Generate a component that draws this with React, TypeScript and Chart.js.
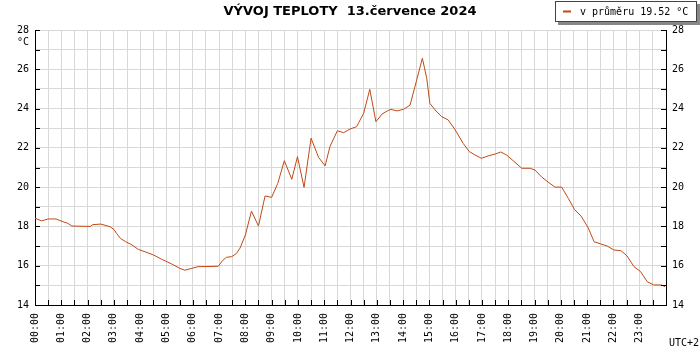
import React, { useEffect, useRef } from "react";
import { Chart, registerables } from "chart.js";

Chart.register(...registerables);

const titleText = "VÝVOJ TEPLOTY  13.července 2024";
const legendText = "v průměru 19.52 °C";
const unitText = "°C";
const tzText = "UTC+2";

const hourLabels = [
  "00:00", "01:00", "02:00", "03:00", "04:00", "05:00", "06:00", "07:00",
  "08:00", "09:00", "10:00", "11:00", "12:00", "13:00", "14:00", "15:00",
  "16:00", "17:00", "18:00", "19:00", "20:00", "21:00", "22:00", "23:00",
];

// minutes after midnight
const minutes = [
  0, 15, 30, 48, 57, 66, 75, 84, 126, 132, 150, 171, 180, 186, 195, 207, 219, 236,
  251, 270, 289, 312, 330, 342, 358, 372, 418, 428, 437, 449, 460, 468, 480, 494,
  510, 525, 540, 554, 569, 586, 599, 614, 630, 647, 662, 673, 690, 704, 719, 734,
  750, 764, 778, 792, 804, 812, 826, 841, 856, 871, 884, 894, 901, 913, 928, 943,
  959, 977, 991, 1004, 1019, 1034, 1051, 1063, 1076, 1091, 1111, 1130, 1141, 1157,
  1175, 1187, 1202, 1217, 1231, 1246, 1262, 1276, 1291, 1306, 1321, 1337, 1351,
  1367, 1382, 1397, 1412, 1430, 1438,
];

const temps = [
  18.42, 18.28, 18.38, 18.38, 18.3, 18.22, 18.16, 18.02, 18.0, 18.09, 18.12, 17.99,
  17.85, 17.65, 17.39, 17.22, 17.09, 16.83, 16.71, 16.55, 16.33, 16.09, 15.87, 15.77,
  15.87, 15.95, 15.97, 16.26, 16.43, 16.46, 16.63, 16.9, 17.56, 18.78, 18.02, 19.55,
  19.48, 20.19, 21.35, 20.4, 21.55, 19.99, 22.49, 21.52, 21.08, 22.06, 22.87, 22.77,
  22.96, 23.08, 23.76, 24.98, 23.33, 23.72, 23.88, 23.96, 23.88, 23.96, 24.18, 25.45,
  26.56, 25.54, 24.27, 23.93, 23.59, 23.42, 22.91, 22.23, 21.81, 21.64, 21.47, 21.59,
  21.69, 21.79, 21.64, 21.35, 20.96, 20.96, 20.87, 20.5, 20.19, 20.0, 20.0, 19.43,
  18.87, 18.53, 17.95, 17.22, 17.11, 17.0, 16.8, 16.77, 16.5, 15.95, 15.7, 15.19,
  15.02, 15.02, 14.93,
];

const LINE_COLOR = "#c04a14";
const MONO = "'DejaVu Sans Mono', monospace";

const decorPlugin = {
  id: "decor",
  afterDraw(chart: any) {
    const ctx = chart.ctx;
    const area = chart.chartArea;
    const x = chart.scales.x;
    const y = chart.scales.y;
    ctx.save();
    // inward tick marks
    ctx.strokeStyle = "#000";
    ctx.lineWidth = 1;
    ctx.beginPath();
    y.ticks.forEach((t: any) => {
      const py = Math.round(y.getPixelForValue(t.value)) + 0.5;
      ctx.moveTo(area.left, py);
      ctx.lineTo(area.left + 5, py);
      ctx.moveTo(area.right, py);
      ctx.lineTo(area.right - 5, py);
    });
    x.ticks.forEach((t: any) => {
      const px = Math.round(x.getPixelForValue(t.value)) + 0.5;
      ctx.moveTo(px, area.bottom);
      ctx.lineTo(px, area.bottom - 5);
    });
    ctx.stroke();

    // title
    ctx.fillStyle = "#000";
    ctx.font = "bold 13px 'DejaVu Sans', sans-serif";
    ctx.textAlign = "center";
    ctx.textBaseline = "middle";
    ctx.fillText(titleText, 350, 12);

    // unit & timezone
    ctx.font = "10px " + MONO;
    ctx.textAlign = "right";
    ctx.fillText(unitText, 29, 42);
    ctx.textAlign = "left";
    ctx.fillText(tzText, 669, 343);

    // legend box
    ctx.fillStyle = "#888";
    ctx.fillRect(558, 4, 142, 21);
    ctx.fillStyle = "#fff";
    ctx.fillRect(555, 1, 142, 21);
    ctx.strokeStyle = "#444";
    ctx.strokeRect(555.5, 1.5, 141, 20);
    ctx.strokeStyle = LINE_COLOR;
    ctx.lineWidth = 2;
    ctx.beginPath();
    ctx.moveTo(563, 11.5);
    ctx.lineTo(571, 11.5);
    ctx.stroke();
    ctx.fillStyle = "#000";
    ctx.font = "10px " + MONO;
    ctx.textAlign = "left";
    ctx.fillText(legendText, 580, 12);
    ctx.restore();
  },
};

export default function App() {
  const ref = useRef<HTMLCanvasElement | null>(null);
  useEffect(() => {
    if (!ref.current) return;
    const data = minutes.map((m, i) => ({ x: m / 60, y: temps[i] }));
    const chart = new Chart(ref.current, {
      type: "line",
      data: {
        datasets: [
          {
            label: legendText,
            data,
            borderColor: LINE_COLOR,
            borderWidth: 1,
            pointRadius: 0,
            tension: 0,
            fill: false,
            yAxisID: "y",
          },
        ],
      },
      options: {
        animation: false,
        responsive: false,
        events: [],
        layout: { padding: { top: 30, left: 0, right: 0, bottom: 0 } },
        plugins: {
          legend: { display: false },
          title: { display: false },
          tooltip: { enabled: false },
        },
        scales: {
          x: {
            type: "linear",
            min: 0,
            max: 24,
            afterFit: (s: any) => {
              s.height = 45;
            },
            grid: { color: "#d8d8d8", drawTicks: false, lineWidth: 1 },
            border: { display: true, color: "#000", width: 1 },
            ticks: {
              stepSize: 0.5,
              autoSkip: false,
              maxRotation: 90,
              minRotation: 90,
              padding: 8,
              color: "#000",
              font: { family: MONO, size: 10 },
              callback: (v: any) => {
                const n = Number(v);
                if (Number.isInteger(n) && n < 24) return hourLabels[n];
                return "";
              },
            },
          },
          y: {
            position: "left",
            min: 14,
            max: 28,
            afterFit: (s: any) => {
              s.width = 35;
            },
            grid: { color: "#d8d8d8", drawTicks: false, lineWidth: 1 },
            border: { display: true, color: "#000", width: 1 },
            ticks: {
              stepSize: 1,
              padding: 6,
              color: "#000",
              font: { family: MONO, size: 10 },
              callback: (v: any) => (Number(v) % 2 === 0 ? String(v) : ""),
            },
          },
          y2: {
            position: "right",
            min: 14,
            max: 28,
            display: true,
            afterFit: (s: any) => {
              s.width = 34;
            },
            grid: { drawOnChartArea: false, drawTicks: false },
            border: { display: true, color: "#000", width: 1 },
            ticks: {
              stepSize: 1,
              padding: 6,
              color: "#000",
              font: { family: MONO, size: 10 },
              callback: (v: any) => (Number(v) % 2 === 0 ? String(v) : ""),
            },
          },
        },
      },
      plugins: [decorPlugin],
    });
    return () => chart.destroy();
  }, []);
  return (
    <div style={{ position: "fixed", left: 0, top: 0, width: 700, height: 350, background: "#fff" }}>
      <canvas ref={ref} width={700} height={350} style={{ display: "block" }} />
    </div>
  );
}
